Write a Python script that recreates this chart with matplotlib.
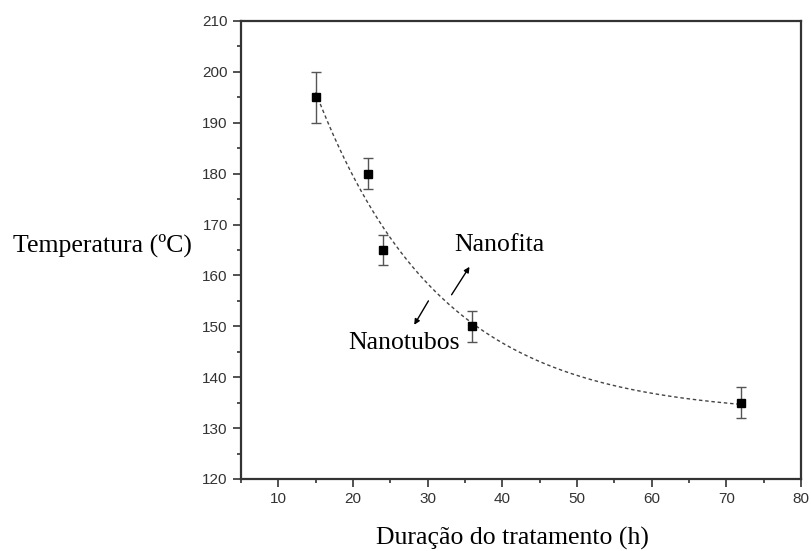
import numpy as np
import matplotlib
matplotlib.use("Agg")
import matplotlib.pyplot as plt
from matplotlib.ticker import MultipleLocator

# Data
duration_h = [15, 22, 24, 36, 72]
temperature_c = [195, 180, 165, 150, 135]
temp_err = [5, 3, 3, 3, 3]

x_ticks = [10, 20, 30, 40, 50, 60, 70, 80]
y_ticks = [120, 130, 140, 150, 160, 170, 180, 190, 200, 210]

# Exponential decay fit to the data (like the dashed fit line in the original)
xd = np.array(duration_h, float)
yd = np.array(temperature_c, float)
best = None
for k in np.linspace(0.005, 0.5, 2000):
    M = np.column_stack([np.ones_like(xd), np.exp(-k * (xd - xd[0]))])
    coef, *_ = np.linalg.lstsq(M, yd, rcond=None)
    r = np.sum((M @ coef - yd) ** 2)
    if best is None or r < best[0]:
        best = (r, k, coef)
_, kf, cf = best
xf = np.linspace(min(duration_h), max(duration_h), 300)
yf = cf[0] + cf[1] * np.exp(-kf * (xf - xd[0]))

fig = plt.figure(figsize=(8.12, 5.51), dpi=100)
ax = fig.add_axes([0.2968, 0.1307, 0.9865 - 0.2968, 0.9619 - 0.1307])

ax.plot(xf, yf, linestyle=(0, (2.5, 2)), color="#444444", linewidth=1.0, zorder=2)
ax.errorbar(duration_h, temperature_c, yerr=temp_err, fmt="s", color="black",
            markersize=5.5, ecolor="#555555", elinewidth=1.0, capsize=3.5,
            capthick=1.0, zorder=3)

ax.set_xlim(5, 80)
ax.set_ylim(120, 210)
ax.set_xticks(x_ticks)
ax.set_yticks(y_ticks)
ax.xaxis.set_minor_locator(MultipleLocator(5))
ax.yaxis.set_minor_locator(MultipleLocator(5))
ax.tick_params(which="major", direction="out", length=6, width=1.2,
               labelsize=11, top=False, right=False, color="#333333")
ax.tick_params(which="minor", direction="out", length=3, width=1.2,
               top=False, right=False, color="#333333")
for lab in ax.get_xticklabels() + ax.get_yticklabels():
    lab.set_fontfamily("Liberation Sans")
    lab.set_color("#333333")
for s in ax.spines.values():
    s.set_linewidth(1.6)
    s.set_color("#333333")

serif = "Liberation Serif"
fs = 18.5
fig.text(512 / 812, 1 - 538 / 551, "Duração do tratamento (h)", fontsize=fs,
         family=serif, ha="center", va="center")
fig.text(102 / 812, 1 - 245 / 551, "Temperatura (ºC)", fontsize=fs, family=serif,
         ha="center", va="center")

ax.text(39.55, 166.0, "Nanofita", fontsize=fs, family=serif, ha="center", va="center")
ax.text(26.8, 146.7, "Nanotubos", fontsize=fs, family=serif, ha="center", va="center")
ax.annotate("", xy=(35.6, 161.7), xytext=(33.2, 156.2),
            arrowprops=dict(arrowstyle="-|>", color="black", lw=1.0,
                            mutation_scale=8, shrinkA=0, shrinkB=0))
ax.annotate("", xy=(28.2, 150.3), xytext=(30.1, 155.0),
            arrowprops=dict(arrowstyle="-|>", color="black", lw=1.0,
                            mutation_scale=8, shrinkA=0, shrinkB=0))

fig.savefig("out.png", dpi=100)
